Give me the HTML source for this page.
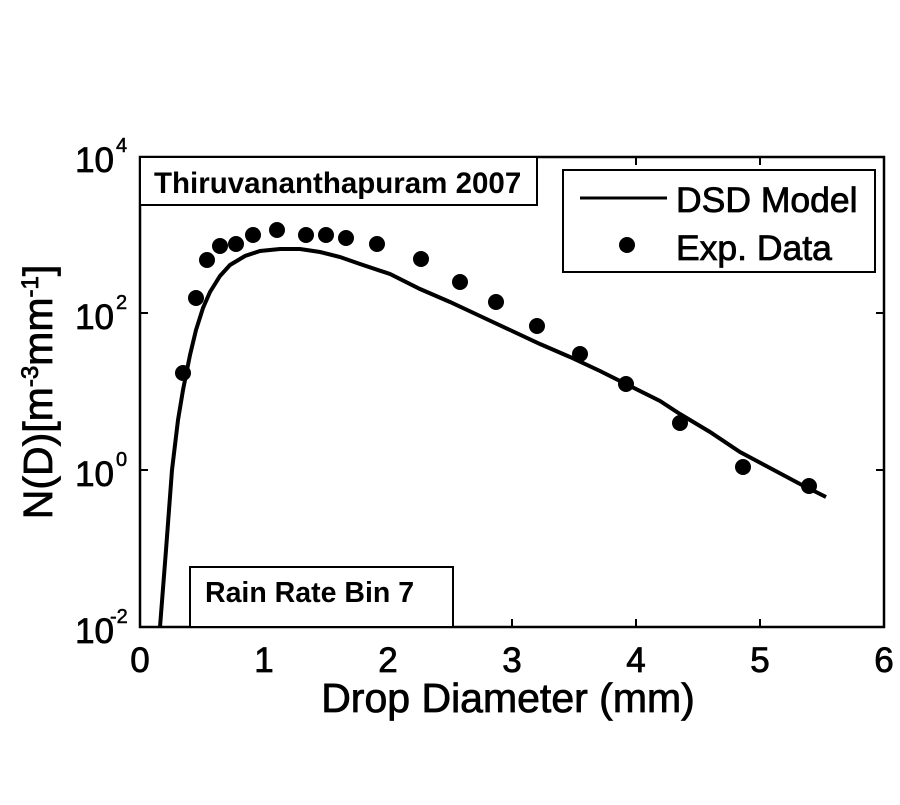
<!DOCTYPE html>
<html><head><style>body{margin:0;background:#fff}</style></head><body>
<svg width="900" height="800" xmlns="http://www.w3.org/2000/svg" font-family="Liberation Sans, sans-serif">
<rect width="900" height="800" fill="#fff"/>
<rect x="140" y="157" width="744" height="470" fill="none" stroke="#000" stroke-width="2.5"/>
<g stroke="#000" stroke-width="2">
<line x1="264" y1="627" x2="264" y2="619"/><line x1="388" y1="627" x2="388" y2="619"/><line x1="512" y1="627" x2="512" y2="619"/><line x1="636" y1="627" x2="636" y2="619"/><line x1="760" y1="627" x2="760" y2="619"/>
<line x1="264" y1="157" x2="264" y2="165"/><line x1="388" y1="157" x2="388" y2="165"/><line x1="512" y1="157" x2="512" y2="165"/><line x1="636" y1="157" x2="636" y2="165"/><line x1="760" y1="157" x2="760" y2="165"/>
<line x1="140" y1="313" x2="148" y2="313"/><line x1="140" y1="470" x2="148" y2="470"/>
<line x1="884" y1="313" x2="876" y2="313"/><line x1="884" y1="470" x2="876" y2="470"/>
</g>
<g font-size="35" text-anchor="middle" fill="#000" stroke="#000" stroke-width="0.8">
<text x="140" y="672">0</text><text x="264" y="672">1</text><text x="388" y="672">2</text><text x="512" y="672">3</text><text x="636" y="672">4</text><text x="760" y="672">5</text><text x="884" y="672">6</text>
</g>
<g font-size="35" fill="#000" text-anchor="end" stroke="#000" stroke-width="0.8">
<text x="114" y="172">10</text><text x="114" y="329">10</text><text x="114" y="486">10</text><text x="114" y="643">10</text>
</g>
<g font-size="20" fill="#000" stroke="#000" stroke-width="0.5">
<text x="116" y="152">4</text><text x="116" y="309">2</text><text x="116" y="466">0</text><text x="110" y="623">-2</text>
</g>
<text x="508" y="712" font-size="41" text-anchor="middle" stroke="#000" stroke-width="0.8">Drop Diameter (mm)</text>
<text transform="translate(52,392) rotate(-90)" font-size="41" text-anchor="middle" stroke="#000" stroke-width="0.8">N(D)[m<tspan dy="-14" font-size="24">-3</tspan><tspan dy="14">mm</tspan><tspan dy="-14" font-size="24">-1</tspan><tspan dy="14">]</tspan></text>
<polyline fill="none" stroke="#000" stroke-width="4" points="160,627 166,550 172,470 178,420 183,390 190,355 196,330 203,308 210,292 220,276 230,265 245,256 260,251 280,249 300,249 320,252 340,257 360,264 390,274 420,289 450,302 480,316 510,330 540,344 570,357 600,371 630,386 660,401 680,414 710,432 740,452 770,468 800,484 826,497"/>
<g fill="#000">
<circle cx="183" cy="373" r="8"/><circle cx="196" cy="298" r="8"/><circle cx="207" cy="260" r="8"/><circle cx="220" cy="246" r="8"/><circle cx="236" cy="244" r="8"/><circle cx="253" cy="235" r="8"/><circle cx="277" cy="230" r="8"/><circle cx="306" cy="235" r="8"/><circle cx="326" cy="235" r="8"/><circle cx="346" cy="238" r="8"/><circle cx="377" cy="244" r="8"/><circle cx="421" cy="259" r="8"/><circle cx="460" cy="282" r="8"/><circle cx="496" cy="302" r="8"/><circle cx="537" cy="326" r="8"/><circle cx="580" cy="354" r="8"/><circle cx="626" cy="384" r="8"/><circle cx="680" cy="423" r="8"/><circle cx="743" cy="467" r="8"/><circle cx="809" cy="486" r="8"/>
</g>
<rect x="140" y="157" width="397" height="48" fill="#fff" stroke="#000" stroke-width="2"/>
<text x="154" y="193" font-size="29.5" font-weight="bold">Thiruvananthapuram 2007</text>
<rect x="190" y="567" width="263" height="60" fill="#fff" stroke="#000" stroke-width="2"/>
<text x="205" y="602" font-size="28.5" font-weight="bold">Rain Rate Bin 7</text>
<rect x="563" y="170" width="312" height="102" fill="#fff" stroke="#000" stroke-width="2"/>
<line x1="580" y1="198" x2="667" y2="198" stroke="#000" stroke-width="3"/>
<circle cx="627" cy="245" r="8" fill="#000"/>
<text x="676" y="212" font-size="35.5" stroke="#000" stroke-width="0.8">DSD Model</text>
<text x="676" y="260" font-size="35.5" stroke="#000" stroke-width="0.8">Exp. Data</text>
</svg>
</body></html>
